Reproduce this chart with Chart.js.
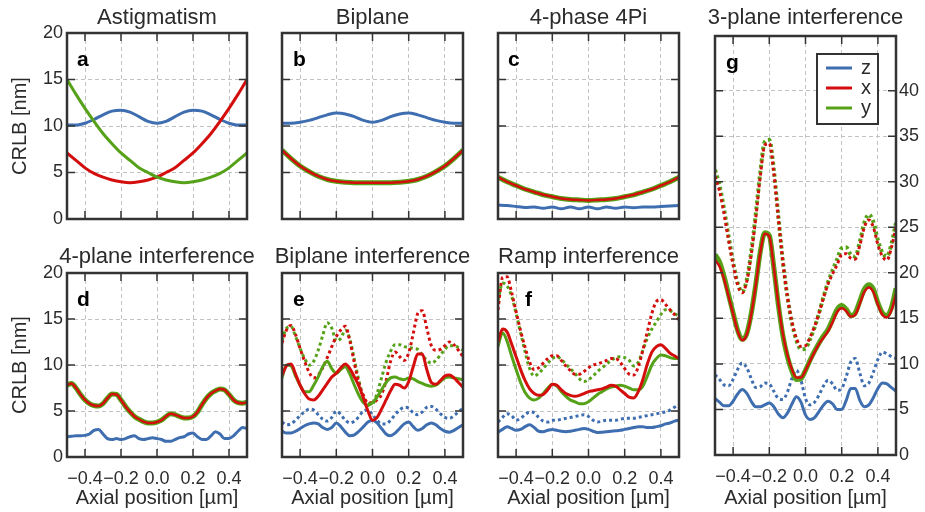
<!DOCTYPE html>
<html>
<head>
<meta charset="utf-8">
<script src="https://cdn.jsdelivr.net/npm/chart.js@4"></script>
<style>
  body { margin: 0; background: #fff; width: 925px; height: 512px; overflow: hidden; position: relative; }
  canvas { position: absolute; left: 0; top: 0; }
</style>
</head>
<body>
<canvas id="pa" width="925" height="512"></canvas>
<canvas id="pb" width="925" height="512"></canvas>
<canvas id="pc" width="925" height="512"></canvas>
<canvas id="pd" width="925" height="512"></canvas>
<canvas id="pe" width="925" height="512"></canvas>
<canvas id="pf" width="925" height="512"></canvas>
<canvas id="pg" width="925" height="512"></canvas>
<script>
// axial positions (µm)
const xCoarse = [-0.5,-0.45,-0.4,-0.35,-0.3,-0.25,-0.2,-0.15,-0.1,-0.05,0,0.05,0.1,0.15,0.2,0.25,0.3,0.35,0.4,0.45,0.5];
const xFine = [-0.5,-0.475,-0.45,-0.425,-0.4,-0.375,-0.35,-0.325,-0.3,-0.275,-0.25,-0.225,-0.2,-0.175,-0.15,-0.125,-0.1,-0.075,-0.05,-0.025,
               0,0.025,0.05,0.075,0.1,0.125,0.15,0.175,0.2,0.225,0.25,0.275,0.3,0.325,0.35,0.375,0.4,0.425,0.45,0.475,0.5];
const xTicks = [-0.4, -0.2, 0, 0.2, 0.4];
const yTicks = [0, 5, 10, 15, 20];
const yTicksG = [0, 5, 10, 15, 20, 25, 30, 35, 40];
const legendNames = ['z', 'x', 'y'];

// a - Astigmatism
const aZ = [10.1,10.1,10.3,10.7,11.2,11.6,11.7,11.5,11.0,10.5,10.3,10.5,11.0,11.5,11.7,11.6,11.2,10.7,10.3,10.1,10.1];
const aX = [7.1,6.3,5.5,4.9,4.5,4.2,4.0,3.9,4.0,4.2,4.5,5.0,5.5,6.3,7.1,8.1,9.2,10.5,11.9,13.4,15.0];
const aY = [15.0,13.4,11.9,10.5,9.2,8.1,7.1,6.3,5.5,5.0,4.5,4.2,4.0,3.9,4.0,4.2,4.5,4.9,5.5,6.3,7.1];
// b - Biplane
const bZ = [10.3,10.3,10.4,10.6,10.9,11.2,11.4,11.3,11.0,10.6,10.4,10.6,11.0,11.3,11.4,11.2,10.9,10.6,10.4,10.3,10.3];
const bX = [7.4,6.5,5.7,5.1,4.6,4.25,4.05,3.95,3.9,3.9,3.9,3.9,3.9,3.95,4.05,4.25,4.6,5.1,5.7,6.5,7.4];
const bY = [7.4,6.5,5.7,5.1,4.6,4.25,4.05,3.95,3.9,3.9,3.9,3.9,3.9,3.95,4.05,4.25,4.6,5.1,5.7,6.5,7.4];
// c - 4-phase 4Pi
const cZ = [1.5,1.45,1.35,1.25,1.3,1.15,1.3,1.1,1.3,1.1,1.3,1.1,1.3,1.15,1.3,1.2,1.3,1.3,1.35,1.4,1.45];
const cX = [4.5,4.0,3.6,3.2,2.9,2.6,2.4,2.2,2.1,2.05,2.0,2.05,2.1,2.2,2.4,2.6,2.9,3.2,3.6,4.0,4.5];
const cY = [4.5,4.0,3.6,3.2,2.9,2.6,2.4,2.2,2.1,2.05,2.0,2.05,2.1,2.2,2.4,2.6,2.9,3.2,3.6,4.0,4.5];
// d - 4-plane interference
const dZ = [2.2,2.25,2.3,2.3,2.35,2.5,2.9,3.0,2.5,2.0,1.9,2.0,1.9,2.0,2.2,2.3,2.0,1.9,2.0,2.1,
            2.0,1.9,1.7,1.7,1.9,2.1,2.2,2.5,2.6,2.2,1.9,1.9,2.3,2.75,2.5,2.0,2.0,2.3,2.8,3.2,3.1];
const dX = [7.8,8.0,7.5,6.8,6.2,5.8,5.6,5.55,5.8,6.4,6.85,6.8,6.2,5.5,4.9,4.4,4.1,3.85,3.7,3.7,
            3.8,4.0,4.4,4.7,4.6,4.4,4.25,4.25,4.4,4.9,5.7,6.4,6.9,7.2,7.4,7.3,6.8,6.2,5.9,5.85,5.95];
const dY = [7.8,8.0,7.5,6.8,6.2,5.8,5.6,5.55,5.8,6.4,6.85,6.8,6.2,5.5,4.9,4.4,4.1,3.85,3.7,3.7,
            3.8,4.0,4.4,4.7,4.6,4.4,4.25,4.25,4.4,4.9,5.7,6.4,6.9,7.2,7.4,7.3,6.8,6.2,5.9,5.85,5.95];
// e - Biplane interference (solid and dotted)
const eZ = [2.8,2.6,2.6,2.8,3.1,3.4,3.6,3.7,3.6,3.2,3.0,3.2,3.7,3.3,2.7,2.3,2.4,2.8,3.3,3.8,
            4.0,3.7,3.1,2.5,2.3,2.6,3.1,3.6,3.8,3.3,2.9,3.1,3.5,3.7,3.5,3.1,2.8,2.7,2.9,3.2,3.5];
const eX = [8.9,9.9,10.1,9.0,7.8,6.9,6.3,6.2,6.6,7.3,8.0,8.7,9.1,9.7,10.1,9.6,8.7,7.7,6.4,5.0,
            4.0,4.3,5.2,6.2,7.2,7.9,7.8,7.5,8.2,9.8,11.2,11.2,9.5,8.1,7.9,8.3,8.8,8.9,8.6,8.1,7.6];
const eY = [8.6,10.0,9.9,8.8,7.8,7.1,7.1,7.8,8.7,9.8,10.4,9.6,9.1,9.5,9.8,9.0,7.8,6.7,5.9,5.6,
            5.9,6.5,7.3,8.1,8.6,8.7,8.5,8.4,8.6,8.5,8.2,8.0,7.8,7.7,7.8,8.2,8.6,8.7,8.6,8.5,8.4];
const eZd = [3.8,3.5,3.6,4.0,4.5,4.9,5.2,5.1,4.6,4.1,3.9,4.3,5.0,4.6,4.0,3.7,3.9,4.4,5.0,5.1,
             4.6,4.0,3.6,3.6,4.0,4.6,5.1,5.4,5.3,4.8,4.6,4.9,5.4,5.5,5.2,4.7,4.3,4.2,4.5,4.9,5.3];
const eXd = [12.4,13.8,14.3,13.3,11.8,10.4,9.2,8.6,8.9,9.7,10.8,12.0,13.1,13.8,14.2,12.6,10.2,8.0,6.7,5.9,
             5.9,6.2,6.8,8.3,10.4,11.4,10.9,10.5,11.3,13.4,15.6,15.9,14.0,12.1,11.6,11.7,12.1,12.5,12.2,11.6,10.9];
const eYd = [12.7,14.0,14.2,13.1,11.8,10.7,10.0,10.4,11.6,13.2,14.6,14.0,12.6,12.9,13.8,12.8,10.6,8.3,6.5,5.8,
             5.8,6.9,8.6,10.3,11.5,12.2,12.2,12.0,11.9,11.8,11.7,11.1,10.5,10.2,10.5,11.1,11.7,12.1,12.1,11.9,11.6];
// f - Ramp interference
const fZ = [2.7,3.0,3.3,3.1,2.9,3.0,3.3,3.5,3.2,2.8,2.75,2.9,3.0,2.9,2.8,2.75,2.8,2.9,3.0,3.1,
            3.0,2.8,2.65,2.7,2.75,2.8,2.85,2.9,3.0,3.1,3.2,3.3,3.3,3.2,3.2,3.3,3.4,3.6,3.7,3.9,4.0];
const fX = [12.5,13.9,13.6,12.3,10.9,9.5,8.3,7.4,6.9,6.7,6.8,7.3,7.9,7.8,7.3,6.9,6.7,6.6,6.7,6.9,
            7.1,7.2,7.3,7.4,7.6,7.8,7.7,7.3,6.9,6.5,6.4,7.1,8.4,10.1,11.4,12.0,12.2,11.8,11.3,11.0,10.7];
const fY = [12.0,13.5,12.6,11.0,9.5,8.1,7.0,6.4,6.2,6.4,6.9,7.5,7.9,7.7,7.1,6.6,6.2,6.0,5.8,5.8,
            6.0,6.4,6.8,7.1,7.4,7.6,7.7,7.8,7.7,7.5,7.3,7.3,7.7,8.8,10.0,10.7,11.1,11.0,10.8,10.7,10.7];
const fZd = [3.8,4.3,4.7,4.5,4.0,4.2,4.6,4.9,4.8,4.3,3.9,3.8,4.0,4.0,4.1,4.2,4.3,4.4,4.5,4.6,
             4.4,4.0,3.8,3.9,4.0,4.0,4.0,4.1,4.2,4.2,4.2,4.3,4.4,4.5,4.6,4.7,4.8,4.9,5.1,5.4,5.7];
const fXd = [16.0,19.5,19.6,17.9,15.8,13.7,11.9,10.3,9.5,9.7,10.2,10.7,11.0,11.0,10.5,9.9,9.4,9.0,9.0,9.3,
             9.7,10.0,10.1,10.3,10.5,10.7,10.7,10.3,9.6,9.0,8.9,9.8,11.6,13.6,15.6,16.9,17.1,16.6,16.0,15.5,14.9];
const fYd = [17.0,18.9,18.6,17.5,15.6,13.5,11.4,9.6,8.8,9.1,9.6,10.2,10.7,10.9,10.6,10.1,9.6,9.1,8.5,8.2,
             8.4,8.8,9.3,9.7,10.1,10.5,10.8,10.9,10.8,10.5,9.9,10.3,11.6,12.9,13.9,14.7,15.5,16.0,15.9,15.6,15.3];
// g - 3-plane interference
const gZ = [6.2,5.8,5.4,5.4,5.9,6.7,7.2,6.8,5.9,5.3,5.3,5.5,5.7,5.3,4.5,4.1,4.6,5.6,6.4,5.8,
            4.4,3.9,4.1,4.8,5.5,5.9,5.6,5.0,5.0,6.0,7.3,7.3,6.0,5.3,5.5,6.3,7.3,7.9,7.8,7.4,7.0];
const gX = [21.4,20.7,19.3,17.4,15.5,13.6,12.6,13.2,15.4,18.6,22.2,24.3,24.0,20.6,16.6,13.3,11.0,9.4,8.5,8.5,
            9.3,10.3,11.3,12.2,12.9,13.6,14.6,15.7,16.1,15.8,15.2,15.4,16.6,17.9,18.4,17.9,16.5,15.4,15.1,15.9,17.7];
const gY = [22.0,21.2,19.6,17.6,15.6,13.7,12.7,13.3,15.5,18.7,22.3,24.4,24.1,20.6,16.5,13.1,10.8,9.2,8.3,8.4,
            9.3,10.4,11.4,12.3,13.1,13.8,14.9,16.0,16.4,16.0,15.3,15.6,16.9,18.2,18.7,18.2,16.7,15.6,15.3,16.2,18.3];
const gZd = [8.8,8.3,7.7,7.6,8.3,9.4,10.1,9.6,8.4,7.4,7.5,7.9,7.8,7.0,6.2,6.1,6.9,8.4,9.3,8.2,
             6.2,5.5,5.8,6.6,7.6,8.2,7.8,7.1,7.3,8.6,10.2,10.6,9.0,7.6,7.9,9.1,10.5,11.3,11.1,10.8,10.6];
const gXd = [30.6,29.0,26.5,23.6,20.9,18.7,17.8,19.0,22.0,26.0,30.6,34.0,34.2,31.0,26.0,21.2,17.4,14.6,12.8,11.9,
             12.0,12.9,14.1,15.6,17.3,18.8,19.9,20.9,22.0,22.1,21.6,21.5,23.0,25.0,25.8,25.0,23.1,21.8,21.4,22.8,25.0];
const gYd = [31.3,29.6,27.0,24.0,21.2,18.9,17.9,19.2,22.3,26.4,31.0,34.4,34.6,31.3,26.2,21.3,17.4,14.5,12.6,11.6,
             11.7,12.7,14.0,15.6,17.4,19.0,20.3,21.5,22.7,22.8,22.0,21.8,23.4,25.5,26.4,25.6,23.6,22.2,21.8,23.2,25.5];

const BLUE = '#3e6eb0';
const RED = '#d40d0d';
const GREEN = '#55a117';
const INK = '#2b2b2b';
const FONT = '"Liberation Sans", Arial, sans-serif';

Chart.defaults.font.family = FONT;
Chart.defaults.color = INK;

function line(data, color, width, dotted) {
  return {
    data: data,
    borderColor: color,
    borderWidth: width,
    borderDash: dotted ? [3, 3] : [],
    pointRadius: 0,
    fill: false,
    cubicInterpolationMode: 'monotone'
  };
}

const fmtX = v => (v < 0 ? '\u2212' : '') + Math.abs(v).toFixed(1);

// frame, inner ticks, panel title, letter and legend
const panelDecor = {
  id: 'panelDecor',
  afterDatasetsDraw(chart, args, opts) {
    const { ctx, chartArea: a, scales: { x, y } } = chart;
    ctx.save();
    ctx.strokeStyle = '#333';
    ctx.lineWidth = 1.5;
    ctx.beginPath();
    x.ticks.forEach(t => {
      const px = x.getPixelForValue(t.value);
      ctx.moveTo(px, a.bottom); ctx.lineTo(px, a.bottom - 8);
      ctx.moveTo(px, a.top); ctx.lineTo(px, a.top + 8);
    });
    y.ticks.forEach(t => {
      if (t.value <= y.min || t.value >= y.max) return;
      const py = y.getPixelForValue(t.value);
      ctx.moveTo(a.left, py); ctx.lineTo(a.left + 8, py);
      ctx.moveTo(a.right, py); ctx.lineTo(a.right - 8, py);
    });
    ctx.stroke();
    ctx.lineWidth = 2.5;
    ctx.strokeRect(a.left, a.top, a.right - a.left, a.bottom - a.top);

    ctx.fillStyle = INK;
    ctx.font = '22px ' + FONT;
    ctx.textAlign = 'center';
    ctx.textBaseline = 'alphabetic';
    ctx.fillText(opts.title, (a.left + a.right) / 2, a.top - opts.titleGap);

    ctx.fillStyle = '#000';
    ctx.font = 'bold 21px ' + FONT;
    ctx.textAlign = 'left';
    ctx.fillText(opts.letter, a.left + opts.letterDx, a.top + 33);

    if (opts.legend) {
      const bx = a.right - 79, by = a.top + 18, bw = 61, bh = 70;
      ctx.fillStyle = '#fff';
      ctx.fillRect(bx, by, bw, bh);
      ctx.strokeStyle = '#333';
      ctx.lineWidth = 2;
      ctx.strokeRect(bx, by, bw, bh);
      const cols = [BLUE, RED, GREEN];
      ctx.font = '20px ' + FONT;
      ctx.textBaseline = 'middle';
      legendNames.forEach((name, i) => {
        const ly = by + 14 + i * 20;
        ctx.strokeStyle = cols[i];
        ctx.lineWidth = 3;
        ctx.beginPath();
        ctx.moveTo(bx + 9, ly); ctx.lineTo(bx + 35, ly);
        ctx.stroke();
        ctx.fillStyle = INK;
        ctx.fillText(name, bx + 44, ly);
      });
    }
    ctx.restore();
  }
};

function makePanel(id, p) {
  const [L, T, R, B] = p.rect;
  const yW = p.yLabels && !p.yRight ? 67 : 0;
  const rW = p.yRight ? 29 : 0;
  const xH = p.xLabels ? 512 - B : 0;
  const yTickList = p.yTickList || yTicks;
  return new Chart(document.getElementById(id), {
    type: 'line',
    data: { labels: p.labels, datasets: p.datasets },
    plugins: [panelDecor],
    options: {
      responsive: false,
      animation: false,
      layout: { padding: { left: L - yW, top: T, right: 925 - R - rW, bottom: 512 - B - xH } },
      plugins: {
        legend: { display: false },
        tooltip: { enabled: false },
        panelDecor: { title: p.title, titleGap: p.titleGap, letter: p.letter, letterDx: p.letterDx, legend: !!p.legend }
      },
      scales: {
        x: {
          type: 'linear', min: -0.5, max: 0.5,
          afterBuildTicks: s => { s.ticks = xTicks.map(v => ({ value: v })); },
          afterFit: s => { s.height = xH; },
          grid: { color: '#c2c2c2', lineWidth: 1, drawTicks: false },
          border: { display: false, dash: [4, 3] },
          ticks: { display: p.xLabels, padding: 11, autoSkip: false, maxRotation: 0, minRotation: 0,
                   font: { size: 18 }, color: INK, callback: v => fmtX(v) },
          title: { display: p.xLabels, text: 'Axial position [µm]', font: { size: 20 }, color: INK,
                   padding: { top: 0, bottom: 2 } }
        },
        y: {
          type: 'linear', min: 0, max: p.yMax, position: p.yRight ? 'right' : 'left',
          afterBuildTicks: s => { s.ticks = yTickList.map(v => ({ value: v })); },
          afterFit: s => { s.width = p.yRight ? rW : yW; },
          grid: { color: '#c2c2c2', lineWidth: 1, drawTicks: false },
          border: { display: false, dash: [4, 3] },
          ticks: { display: !!(p.yLabels || p.yRight), padding: p.yRight ? 3 : 4, font: { size: 18 }, color: INK,
                   callback: v => String(v) },
          title: { display: !!p.yLabels && !p.yRight, text: 'CRLB [nm]', font: { size: 20 }, color: INK,
                   padding: { top: 8, bottom: 0 } }
        }
      }
    }
  });
}

makePanel('pa', { rect: [67, 33, 247, 219], labels: xCoarse, yMax: 20, yLabels: true, xLabels: false,
  title: 'Astigmatism', titleGap: 9, letter: 'a', letterDx: 10,
  datasets: [line(aY, GREEN, 3), line(aX, RED, 3), line(aZ, BLUE, 3)] });

makePanel('pb', { rect: [282, 33, 463, 219], labels: xCoarse, yMax: 20, yLabels: false, xLabels: false,
  title: 'Biplane', titleGap: 9, letter: 'b', letterDx: 11,
  datasets: [line(bX, RED, 2.5), line(bY, GREEN, 5), line(bZ, BLUE, 3)] });

makePanel('pc', { rect: [498, 33, 679, 219], labels: xCoarse, yMax: 20, yLabels: false, xLabels: false,
  title: '4-phase 4Pi', titleGap: 9, letter: 'c', letterDx: 10,
  datasets: [line(cX, RED, 2.5), line(cY, GREEN, 5), line(cZ, BLUE, 3)] });

makePanel('pd', { rect: [67, 273, 247, 457], labels: xFine, yMax: 20, yLabels: true, xLabels: true,
  title: '4-plane interference', titleGap: 10.5, letter: 'd', letterDx: 10,
  datasets: [line(dX, RED, 2.5), line(dY, GREEN, 5), line(dZ, BLUE, 3)] });

makePanel('pe', { rect: [282, 273, 463, 457], labels: xFine, yMax: 20, yLabels: false, xLabels: true,
  title: 'Biplane interference', titleGap: 10.5, letter: 'e', letterDx: 11,
  datasets: [line(eX, RED, 3), line(eY, GREEN, 3), line(eZ, BLUE, 3),
             line(eXd, RED, 3, true), line(eYd, GREEN, 3, true), line(eZd, BLUE, 3, true)] });

makePanel('pf', { rect: [498, 273, 679, 457], labels: xFine, yMax: 20, yLabels: false, xLabels: true,
  title: 'Ramp interference', titleGap: 10.5, letter: 'f', letterDx: 27,
  datasets: [line(fX, RED, 3), line(fY, GREEN, 3), line(fZ, BLUE, 3),
             line(fXd, RED, 3, true), line(fYd, GREEN, 3, true), line(fZd, BLUE, 3, true)] });

makePanel('pg', { rect: [715, 36, 896, 455], labels: xFine, yMax: 46, yTickList: yTicksG, yRight: true, xLabels: true,
  title: '3-plane interference', titleGap: 12, letter: 'g', letterDx: 11, legend: true,
  datasets: [line(gX, RED, 2.5), line(gY, GREEN, 5), line(gZ, BLUE, 3),
             line(gXd, RED, 3, true), line(gYd, GREEN, 4, true), line(gZd, BLUE, 3, true)] });
</script>
</body>
</html>
